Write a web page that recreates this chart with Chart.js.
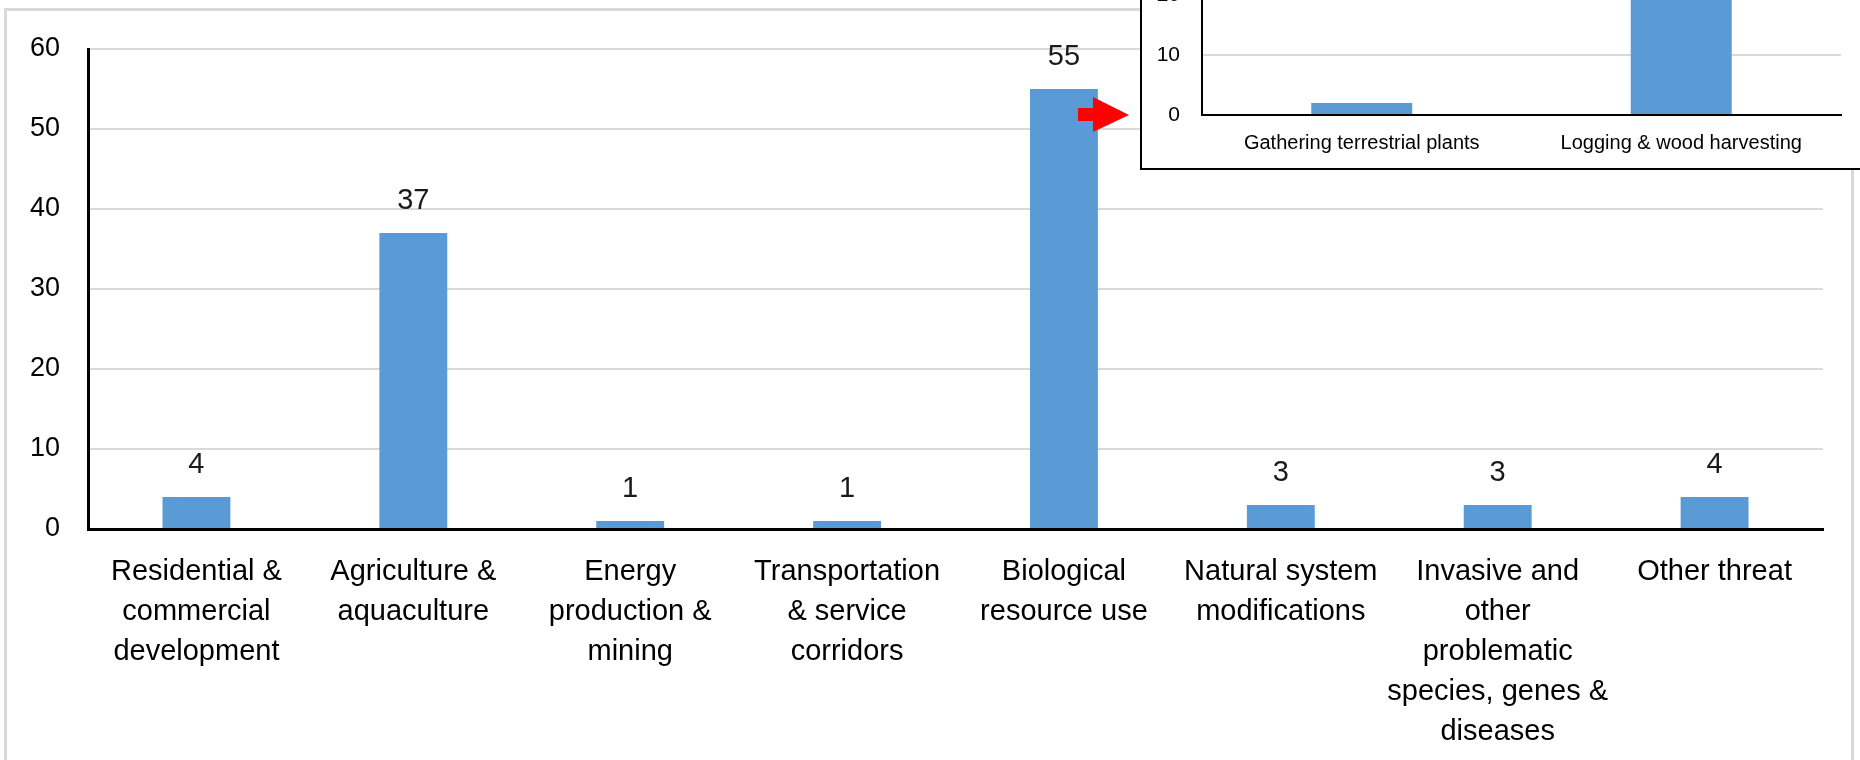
<!DOCTYPE html>
<html>
<head>
<meta charset="utf-8">
<title>Threats</title>
<script src="https://cdn.jsdelivr.net/npm/chart.js@4.4.1/dist/chart.umd.min.js"></script>
<style>
  html, body { margin: 0; padding: 0; background: #fff; overflow: hidden; }
  #wrap { position: relative; width: 1860px; height: 760px; overflow: hidden; }
  #frame { position: absolute; left: 4px; top: 8px; width: 1850px; height: 800px;
           border: 3px solid #d9d9d9; box-sizing: border-box; }
  #main { position: absolute; left: 0; top: 0; }
  #insetBox { position: absolute; left: 1140px; top: -300px; width: 740px; height: 470px;
              background: #fff; border-left: 2px solid #000; border-bottom: 2px solid #000;
              box-sizing: border-box; }
  #inset { position: absolute; left: 0; top: 0; }
</style>
</head>
<body>
<div id="wrap">
  <div id="frame"></div>
  <canvas id="main" width="1860" height="760"></canvas>
  <div id="insetBox"><canvas id="inset" width="718" height="468"></canvas></div>
</div>
<script>
// --- data ---
const categories = [
  ['Residential &', 'commercial', 'development'],
  ['Agriculture &', 'aquaculture'],
  ['Energy', 'production &', 'mining'],
  ['Transportation', '& service', 'corridors'],
  ['Biological', 'resource use'],
  ['Natural system', 'modifications'],
  ['Invasive and', 'other', 'problematic', 'species, genes &', 'diseases'],
  ['Other threat']
];
const threatCounts = [4, 37, 1, 1, 55, 3, 3, 4];

// inset: breakdown of biological resource use
const subCategories = ['Gathering terrestrial plants', 'Logging & wood harvesting'];
const subCounts = [2, 53];

const mainMax = 60;
const mainStep = 10;
const insetMax = 60;
const insetStep = 10;

const BAR_BLUE = '#5b9bd5';
const GRID_GREY = '#d9d9d9';
const FONT = "'Liberation Sans', Arial, sans-serif";

Chart.defaults.font.family = FONT;
Chart.defaults.color = '#000';

// value labels above the bars
const valueLabels = {
  id: 'valueLabels',
  afterDatasetsDraw(chart, args, opts) {
    if (!opts.show) return;
    const ctx = chart.ctx;
    const meta = chart.getDatasetMeta(0);
    const data = chart.data.datasets[0].data;
    ctx.save();
    ctx.font = opts.size + 'px ' + FONT;
    ctx.fillStyle = '#1a1a1a';
    ctx.textAlign = 'center';
    ctx.textBaseline = 'alphabetic';
    meta.data.forEach((bar, i) => {
      ctx.fillText(String(data[i]), bar.x, bar.y - opts.offset);
    });
    ctx.restore();
  }
};

// red pointer arrow toward the inset
const pointerArrow = {
  id: 'pointerArrow',
  afterDraw(chart, args, opts) {
    if (!opts.show) return;
    const ctx = chart.ctx;
    ctx.save();
    ctx.fillStyle = '#ff0000';
    ctx.fillRect(1078, 108, 17, 13);
    ctx.beginPath();
    ctx.moveTo(1093, 97);
    ctx.lineTo(1129, 115);
    ctx.lineTo(1093, 132);
    ctx.closePath();
    ctx.fill();
    ctx.restore();
  }
};

new Chart(document.getElementById('main'), {
  type: 'bar',
  data: {
    labels: categories,
    datasets: [{
      data: threatCounts,
      backgroundColor: BAR_BLUE,
      borderWidth: 0,
      categoryPercentage: 1,
      barPercentage: 0.313
    }]
  },
  options: {
    responsive: false,
    animation: false,
    layout: { padding: { left: 0, right: 37, top: 49, bottom: 0 } },
    plugins: {
      legend: { display: false },
      tooltip: { enabled: false },
      valueLabels: { show: true, size: 29, offset: 24 },
      pointerArrow: { show: true }
    },
    scales: {
      x: {
        grid: { display: false, drawTicks: false },
        border: { display: true, color: '#000', width: 3 },
        ticks: {
          autoSkip: false, maxRotation: 0, minRotation: 0,
          padding: 23,
          font: { size: 29, lineHeight: 40 / 29 },
          color: '#000'
        },
        afterFit: s => { s.height = 231; }
      },
      y: {
        min: 0, max: mainMax,
        grid: { color: GRID_GREY, lineWidth: 2, drawTicks: false },
        border: { display: true, color: '#000', width: 3 },
        ticks: { stepSize: mainStep, padding: 28, font: { size: 27 }, color: '#000' },
        afterFit: s => { s.width = 88; }
      }
    }
  },
  plugins: [valueLabels, pointerArrow]
});

new Chart(document.getElementById('inset'), {
  type: 'bar',
  data: {
    labels: subCategories,
    datasets: [{
      data: subCounts,
      backgroundColor: BAR_BLUE,
      borderWidth: 0,
      categoryPercentage: 1,
      barPercentage: 0.316
    }]
  },
  options: {
    responsive: false,
    animation: false,
    layout: { padding: { left: 0, right: 19, top: 55, bottom: 0 } },
    plugins: {
      legend: { display: false },
      tooltip: { enabled: false }
    },
    scales: {
      x: {
        grid: { display: false, drawTicks: false },
        border: { display: true, color: '#000', width: 2 },
        ticks: {
          autoSkip: false, maxRotation: 0, minRotation: 0,
          padding: 16,
          font: { size: 20, lineHeight: 1.2 },
          color: '#000'
        },
        afterFit: s => { s.height = 53; }
      },
      y: {
        min: 0, max: insetMax,
        grid: { color: GRID_GREY, lineWidth: 2, drawTicks: false },
        border: { display: true, color: '#000', width: 2 },
        ticks: { stepSize: insetStep, padding: 22, font: { size: 21 }, color: '#000' },
        afterFit: s => { s.width = 60; }
      }
    }
  }
});
</script>
</body>
</html>
